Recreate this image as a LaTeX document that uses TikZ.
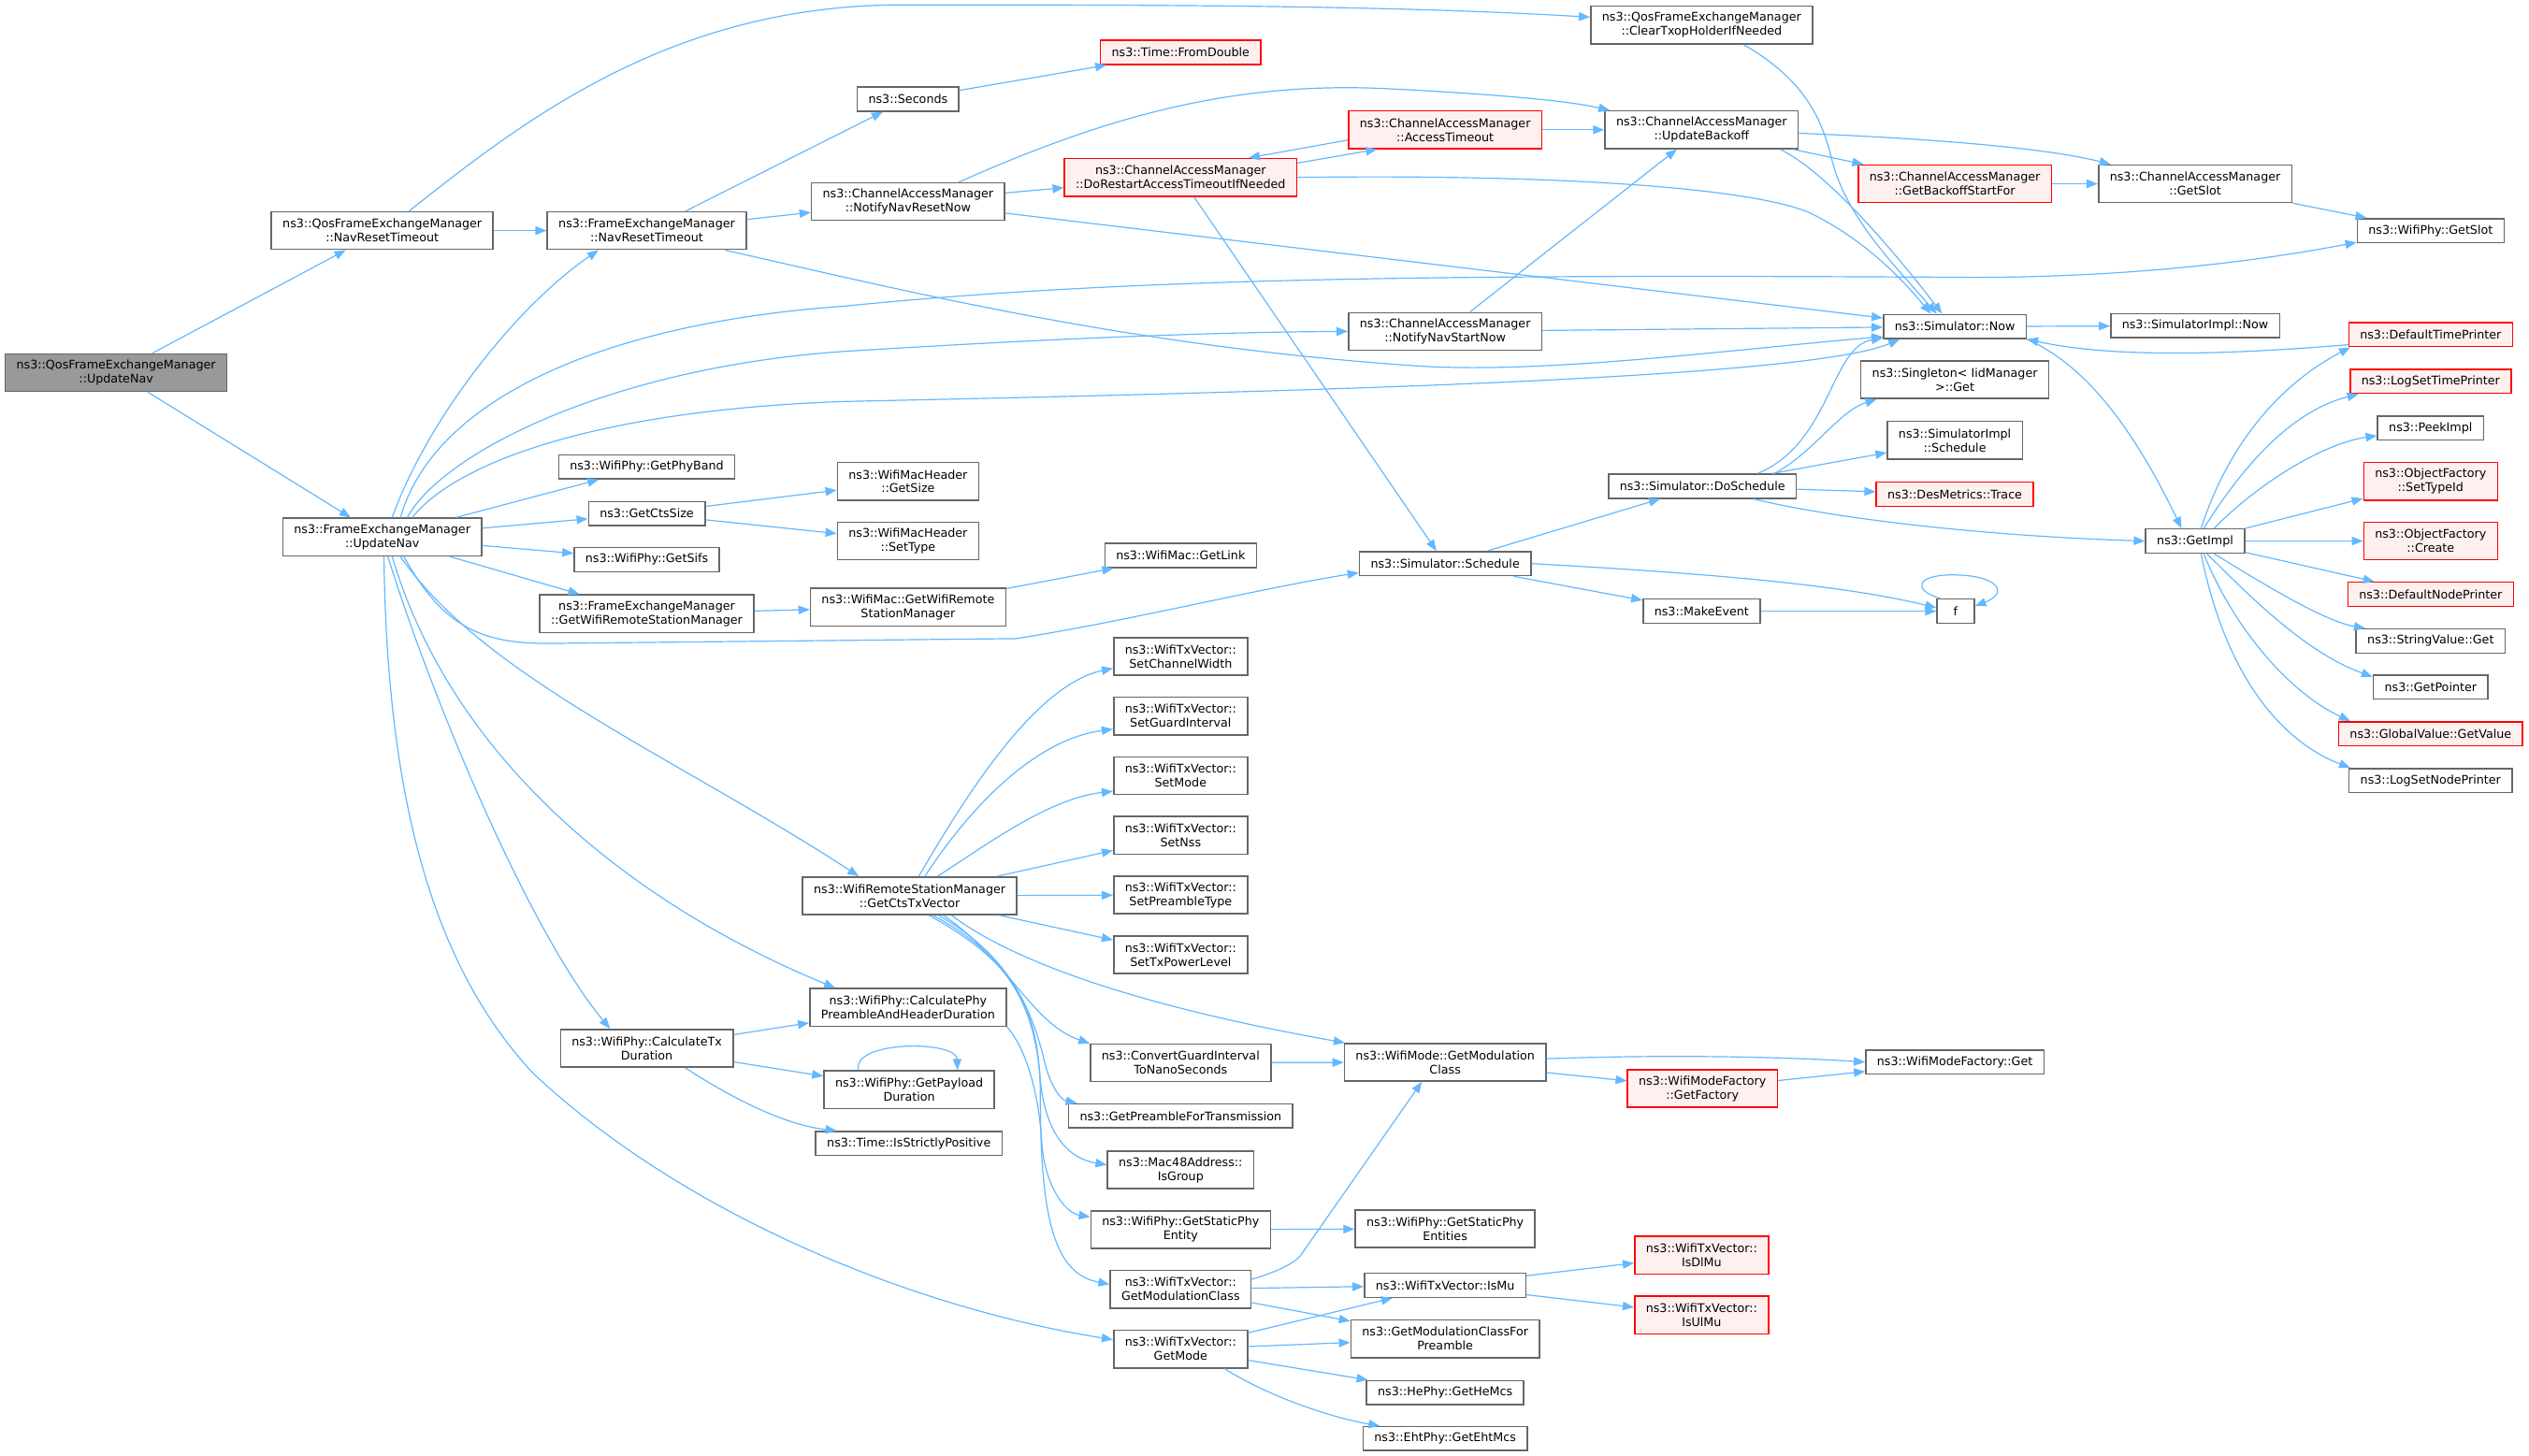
\documentclass[tikz,border=0pt]{standalone}
\usepackage{fontspec}
\setmainfont{DejaVu Sans}
\usetikzlibrary{arrows.meta}
\definecolor{edgeblue}{HTML}{63B8FF}
\definecolor{boxgray}{HTML}{666666}
\definecolor{linered}{HTML}{FF0000}
\definecolor{fillred}{HTML}{FFF0F0}
\definecolor{fillroot}{HTML}{999999}

\begin{document}
\begin{tikzpicture}[x=0.8623pt, y=-0.8623pt,
    box/.style={draw=boxgray, fill=white, line width=0.75pt, align=center, inner xsep=6pt, inner ysep=2pt, minimum height=12.85pt, font=\fontsize{6.35}{7.5}\selectfont},
    tall/.style={box, minimum height=20.1pt},
    redbox/.style={draw=linered, fill=fillred},
    rootbox/.style={fill=fillroot},
    call/.style={draw=edgeblue, line width=0.6pt, -{Triangle[length=6pt,width=4.6pt]}}]
    \useasboundingbox (0,0) rectangle (1568,902.3);

    % Root and first callees
    \node[tall, rootbox] (upd0) at (72,231) {ns3::QosFrameExchangeManager\\::UpdateNav};
    \node[tall] (qnrt) at (237,143) {ns3::QosFrameExchangeManager\\::NavResetTimeout};
    \node[tall] (fupd) at (237,333) {ns3::FrameExchangeManager\\::UpdateNav};
    \node[tall] (fnrt) at (401,143) {ns3::FrameExchangeManager\\::NavResetTimeout};

    % Channel access manager
    \node[tall] (clrtxop) at (1055,15.5) {ns3::QosFrameExchangeManager\\::ClearTxopHolderIfNeeded};
    \node[box] (seconds) at (563,61.5) {ns3::Seconds};
    \node[box, redbox] (fromdbl) at (732,32.5) {ns3::Time::FromDouble};
    \node[tall] (nrnow) at (563,125) {ns3::ChannelAccessManager\\::NotifyNavResetNow};
    \node[tall, redbox] (dorestart) at (732,110) {ns3::ChannelAccessManager\\::DoRestartAccessTimeoutIfNeeded};
    \node[tall, redbox] (acctimeout) at (896,80.5) {ns3::ChannelAccessManager\\::AccessTimeout};
    \node[tall] (updbackoff) at (1055,80.5) {ns3::ChannelAccessManager\\::UpdateBackoff};
    \node[tall, redbox] (backoffstart) at (1212,114) {ns3::ChannelAccessManager\\::GetBackoffStartFor};
    \node[tall] (camslot) at (1361,114) {ns3::ChannelAccessManager\\::GetSlot};
    \node[box] (physlot) at (1507,143) {ns3::WifiPhy::GetSlot};
    \node[tall] (nsnow) at (896,205.5) {ns3::ChannelAccessManager\\::NotifyNavStartNow};

    % Simulator
    \node[box] (simnow) at (1212,202.5) {ns3::Simulator::Now};
    \node[box] (implnow) at (1361,202) {ns3::SimulatorImpl::Now};
    \node[tall] (singleton) at (1212,235.5) {ns3::Singleton< IidManager\\>::Get};
    \node[tall] (implsched) at (1212,273) {ns3::SimulatorImpl\\::Schedule};
    \node[box, redbox] (trace) at (1212,306.5) {ns3::DesMetrics::Trace};
    \node[box] (dosched) at (1055.5,301.5) {ns3::Simulator::DoSchedule};
    \node[box] (schedule) at (896,349.5) {ns3::Simulator::Schedule};
    \node[box] (makeevent) at (1055,379) {ns3::MakeEvent};
    \node[box, minimum width=19.8pt] (f) at (1212.5,379) {f};
    \node[box] (getimpl) at (1361,335.5) {ns3::GetImpl};

    % GetImpl callees
    \node[box, redbox] (deftime) at (1507,207.5) {ns3::DefaultTimePrinter};
    \node[box, redbox] (logtime) at (1507,236.5) {ns3::LogSetTimePrinter};
    \node[box] (peekimpl) at (1507,265.5) {ns3::PeekImpl};
    \node[tall, redbox] (settypeid) at (1507,298.5) {ns3::ObjectFactory\\::SetTypeId};
    \node[tall, redbox] (create) at (1507,335.5) {ns3::ObjectFactory\\::Create};
    \node[box, redbox] (defnode) at (1507,368.5) {ns3::DefaultNodePrinter};
    \node[box] (strget) at (1507,397.5) {ns3::StringValue::Get};
    \node[box] (getptr) at (1507,426) {ns3::GetPointer};
    \node[box, redbox] (gvget) at (1507,455) {ns3::GlobalValue::GetValue};
    \node[box] (lognode) at (1507,484) {ns3::LogSetNodePrinter};

    % UpdateNav callees
    \node[box] (phyband) at (401,289.5) {ns3::WifiPhy::GetPhyBand};
    \node[box] (ctssize) at (401,318.5) {ns3::GetCtsSize};
    \node[tall] (hdrsize) at (563,298.5) {ns3::WifiMacHeader\\::GetSize};
    \node[tall] (hdrtype) at (563,335.5) {ns3::WifiMacHeader\\::SetType};
    \node[box] (sifs) at (401,347) {ns3::WifiPhy::GetSifs};
    \node[tall] (fgetrsm) at (401,380.5) {ns3::FrameExchangeManager\\::GetWifiRemoteStationManager};
    \node[tall] (macgetrsm) at (563,376.5) {ns3::WifiMac::GetWifiRemote\\StationManager};
    \node[box] (getlink) at (732,344.5) {ns3::WifiMac::GetLink};

    % Tx vector setters
    \node[tall] (setcw) at (732,407) {ns3::WifiTxVector::\\SetChannelWidth};
    \node[tall] (setgi) at (732,444) {ns3::WifiTxVector::\\SetGuardInterval};
    \node[tall] (setmode) at (732,481) {ns3::WifiTxVector::\\SetMode};
    \node[tall] (setnss) at (732,518) {ns3::WifiTxVector::\\SetNss};
    \node[tall] (setpre) at (732,555) {ns3::WifiTxVector::\\SetPreambleType};
    \node[tall] (setpwr) at (732,592) {ns3::WifiTxVector::\\SetTxPowerLevel};
    \node[tall] (ctstx) at (564,555.5) {ns3::WifiRemoteStationManager\\::GetCtsTxVector};

    % Durations
    \node[tall] (calcpre) at (563,624.7) {ns3::WifiPhy::CalculatePhy\\PreambleAndHeaderDuration};
    \node[tall] (calctx) at (401,650) {ns3::WifiPhy::CalculateTx\\Duration};
    \node[tall] (payload) at (563.7,675.7) {ns3::WifiPhy::GetPayload\\Duration};
    \node[box] (strict) at (563.5,709) {ns3::Time::IsStrictlyPositive};

    % Modes and modulation classes
    \node[tall] (convgi) at (732,659) {ns3::ConvertGuardInterval\\ToNanoSeconds};
    \node[box] (pretx) at (732,692) {ns3::GetPreambleForTransmission};
    \node[tall] (isgroup) at (732,725.5) {ns3::Mac48Address::\\IsGroup};
    \node[tall] (staticphy) at (732,762.5) {ns3::WifiPhy::GetStaticPhy\\Entity};
    \node[tall] (txmodclass) at (732,799.5) {ns3::WifiTxVector::\\GetModulationClass};
    \node[tall] (txmode) at (732,836.6) {ns3::WifiTxVector::\\GetMode};
    \node[tall] (modemodclass) at (896,658.7) {ns3::WifiMode::GetModulation\\Class};
    \node[tall, redbox] (factory) at (1055.5,675) {ns3::WifiModeFactory\\::GetFactory};
    \node[box] (factoryget) at (1212,658.6) {ns3::WifiModeFactory::Get};
    \node[tall] (staticents) at (896,762) {ns3::WifiPhy::GetStaticPhy\\Entities};
    \node[box] (ismu) at (896,797) {ns3::WifiTxVector::IsMu};
    \node[tall, redbox] (isdlmu) at (1055,778.3) {ns3::WifiTxVector::\\IsDlMu};
    \node[tall, redbox] (isulmu) at (1055,815.5) {ns3::WifiTxVector::\\IsUlMu};
    \node[tall] (modpre) at (896,830.2) {ns3::GetModulationClassFor\\Preamble};
    \node[box] (hemcs) at (896,863.6) {ns3::HePhy::GetHeMcs};
    \node[box] (ehtmcs) at (896,892) {ns3::EhtPhy::GetEhtMcs};

    % Calls from the root
    \draw[call] (upd0) -- (qnrt);
    \draw[call] (upd0) -- (fupd);
    \draw[call] (qnrt) -- (fnrt);
    \draw[call] (qnrt.36) .. controls (330,70) and (420,3) .. (560,3) .. controls (700,3) and (860,3) .. (clrtxop.176);

    % NavResetTimeout
    \draw[call] (fnrt) -- (seconds);
    \draw[call] (fnrt) -- (nrnow);
    \draw[call] (fnrt.-14) .. controls (560,180) and (700,215) .. (880,227) .. controls (960,232) and (1080,216) .. (simnow.188);
    \draw[call] (seconds) -- (fromdbl);
    \draw[call] (nrnow) -- (dorestart);
    \draw[call] (nrnow.21) .. controls (680,75) and (760,50) .. (860,55) .. controls (920,58) and (970,62) .. (updbackoff.168);
    \draw[call] (nrnow) -- (simnow);
    \draw[call] (dorestart.7) -- (acctimeout.196);
    \draw[call] (acctimeout.186) -- (dorestart.16);
    \draw[call] (acctimeout) -- (updbackoff);
    \draw[call] (dorestart.east) .. controls (950,108) and (1080,115) .. (1121,131.5) .. controls (1160,150) and (1185,180) .. (simnow.152);
    \draw[call] (dorestart) -- (schedule);
    \draw[call] (clrtxop.-25) .. controls (1120,50) and (1130,75) .. (1136,100) .. controls (1145,135) and (1175,165) .. (simnow.145);
    \draw[call] (updbackoff) -- (backoffstart);
    \draw[call] (updbackoff.-2) .. controls (1200,86) and (1270,92) .. (camslot.167);
    \draw[call] (updbackoff.-14) .. controls (1130,105) and (1170,150) .. (simnow.135);
    \draw[call] (backoffstart) -- (camslot);
    \draw[call] (camslot) -- (physlot);
    \draw[call] (nsnow) -- (updbackoff);
    \draw[call] (nsnow) -- (simnow);

    % Simulator::Now and GetImpl
    \draw[call] (simnow) -- (implnow);
    \draw[call] (simnow.-10) .. controls (1290,225) and (1320,260) .. (getimpl.137);
    \draw[call] (deftime.187) .. controls (1380,220) and (1310,222) .. (simnow.-10);
    \draw[call] (getimpl.65) .. controls (1380,280) and (1410,240) .. (deftime.189);
    \draw[call] (getimpl.56) .. controls (1390,290) and (1420,255) .. (logtime.190);
    \draw[call] (getimpl.34) .. controls (1400,300) and (1440,275) .. (peekimpl.188);
    \draw[call] (getimpl) -- (settypeid);
    \draw[call] (getimpl) -- (create);
    \draw[call] (getimpl) -- (defnode);
    \draw[call] (getimpl.-34) .. controls (1400,360) and (1440,385) .. (strget.169);
    \draw[call] (getimpl.-47) .. controls (1395,370) and (1430,405) .. (getptr.170);
    \draw[call] (getimpl.-56) .. controls (1385,390) and (1420,430) .. (gvget.171);
    \draw[call] (getimpl.-65) .. controls (1380,420) and (1415,460) .. (lognode.171);

    % Scheduling
    \draw[call] (dosched.10) .. controls (1125,280) and (1140,255) .. (singleton.194);
    \draw[call] (dosched.13) .. controls (1135,275) and (1135,215) .. (simnow.189);
    \draw[call] (dosched) -- (implsched);
    \draw[call] (dosched) -- (trace);
    \draw[call] (dosched.-14) .. controls (1130,320) and (1220,332) .. (getimpl.west);
    \draw[call] (schedule) -- (dosched);
    \draw[call] (schedule) -- (makeevent);
    \draw[call] (schedule.east) .. controls (1050,355) and (1140,362) .. (f.170);
    \draw[call] (makeevent) -- (f);
    \draw[call] (f.140) .. controls (1185,366) and (1188,356) .. (1212,356.5) .. controls (1240,357) and (1245,368) .. (f.15);

    % UpdateNav upwards
    \draw[call] (fupd.63) .. controls (265,260) and (320,190) .. (fnrt.202);
    \draw[call] (fupd.47) .. controls (270,245) and (380,200) .. (522,190) .. controls (700,172) and (900,170) .. (1223,172) .. controls (1320,172) and (1400,162) .. (physlot.189);
    \draw[call] (fupd.38) .. controls (275,280) and (380,228) .. (522,218) .. controls (650,210) and (750,206) .. (nsnow.west);
    \draw[call] (fupd.33) .. controls (280,290) and (360,255) .. (522,249) .. controls (800,243) and (1120,235) .. (simnow.193);

    % UpdateNav to the right
    \draw[call] (fupd) -- (phyband);
    \draw[call] (fupd) -- (ctssize);
    \draw[call] (fupd) -- (sifs);
    \draw[call] (fupd) -- (fgetrsm);
    \draw[call] (ctssize) -- (hdrsize);
    \draw[call] (ctssize) -- (hdrtype);
    \draw[call] (fgetrsm) -- (macgetrsm);
    \draw[call] (macgetrsm) -- (getlink);

    % UpdateNav downwards
    \draw[call] (fupd.-42) .. controls (275,390) and (300,399) .. (340,399) -- (630,396) .. controls (700,385) and (780,365) .. (schedule.186);
    \draw[call] (fupd.-47) .. controls (300,420) and (420,470) .. (ctstx.159);
    \draw[call] (fupd.-63) .. controls (280,470) and (390,560) .. (calcpre.165);
    \draw[call] (fupd.-74) .. controls (270,440) and (330,580) .. (calctx.152);
    \draw[call] (fupd.-85) .. controls (240,500) and (270,600) .. (330,665) .. controls (420,750) and (560,810) .. (txmode.172);

    % GetCtsTxVector
    \draw[call] (ctstx.65) .. controls (595,500) and (640,425) .. (setcw.190);
    \draw[call] (ctstx.52) .. controls (605,495) and (645,458) .. (setgi.191);
    \draw[call] (ctstx.35) .. controls (610,525) and (650,495) .. (setmode.193);
    \draw[call] (ctstx) -- (setnss);
    \draw[call] (ctstx) -- (setpre);
    \draw[call] (ctstx) -- (setpwr);
    \draw[call] (ctstx.-25) .. controls (640,605) and (740,630) .. (modemodclass.169);
    \draw[call] (ctstx.-30) .. controls (625,595) and (640,635) .. (convgi.168);
    \draw[call] (ctstx.-34) .. controls (625,592) and (640,625) .. (648,660) .. controls (652,675) and (658,682) .. (pretx.173);
    \draw[call] (ctstx.-40) .. controls (630,595) and (642,630) .. (645,670) .. controls (648,700) and (660,718) .. (isgroup.176);
    \draw[call] (ctstx.-45) .. controls (625,595) and (645,620) .. (645,680) .. controls (645,760) and (655,790) .. (txmodclass.176);

    % Durations
    \draw[call] (calctx) -- (calcpre);
    \draw[call] (calctx) -- (payload);
    \draw[call] (calctx.-27) .. controls (460,685) and (490,698) .. (strict.170);
    \draw[call] (payload.159) .. controls (528,645) and (593,645) .. (payload.22);
    \draw[call] (calcpre.-11) .. controls (640,655) and (645,690) .. (646,710) .. controls (648,735) and (660,752) .. (staticphy.172);

    % Modulation classes
    \draw[call] (convgi) -- (modemodclass);
    \draw[call] (modemodclass.2) .. controls (1030,654) and (1100,655) .. (factoryget.west);
    \draw[call] (modemodclass) -- (factory);
    \draw[call] (factory) -- (factoryget);
    \draw[call] (staticphy) -- (staticents);
    \draw[call] (txmodclass.8) .. controls (790,789) and (800,785) .. (806,779) -- (modemodclass.220);
    \draw[call] (txmodclass) -- (ismu);
    \draw[call] (txmodclass) -- (modpre);
    \draw[call] (txmode) -- (ismu);
    \draw[call] (txmode) -- (modpre);
    \draw[call] (txmode) -- (hemcs);
    \draw[call] (txmode.-24) .. controls (790,868) and (830,880) .. (ehtmcs.169);
    \draw[call] (ismu) -- (isdlmu);
    \draw[call] (ismu) -- (isulmu);
\end{tikzpicture}
\end{document}
